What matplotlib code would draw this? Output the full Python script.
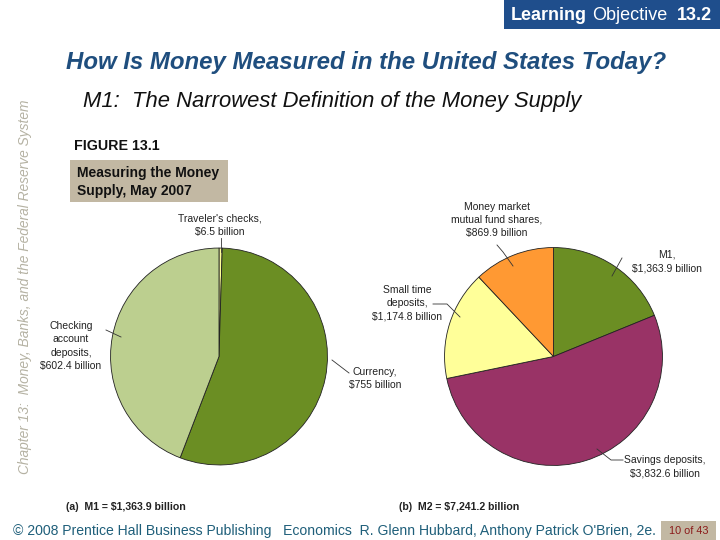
import matplotlib
matplotlib.use("Agg")
import matplotlib.pyplot as plt
from matplotlib.patches import Rectangle

plt.rcParams['font.family'] = ['Liberation Sans', 'DejaVu Sans']

W, H = 720, 540
m1_labels = ["Traveler's checks", "Currency", "Checking account deposits"]
m1_values = [6.5, 755.0, 602.4]
m1_colors = ["#ffff99", "#6b8e23", "#bccf8f"]
m2_labels = ["M1", "Savings deposits", "Small time deposits", "Money market mutual fund shares"]
m2_values = [1363.9, 3832.6, 1174.8, 869.9]
m2_colors = ["#6b8e23", "#993366", "#ffff99", "#ff9933"]

fig = plt.figure(figsize=(7.2, 5.4), dpi=100, facecolor="white")
page = fig.add_axes([0, 0, 1, 1])
page.set_xlim(0, W)
page.set_ylim(H, 0)
page.axis("off")


def pie_axes(cx, cy, r, values, colors):
    ax = fig.add_axes([(cx - r) / W, 1 - (cy + r) / H, 2 * r / W, 2 * r / H])
    ax.pie(values, colors=colors, startangle=90, counterclock=False, radius=1,
           wedgeprops=dict(edgecolor="#222222", linewidth=0.6))
    ax.set_xlim(-1.005, 1.005)
    ax.set_ylim(-1.005, 1.005)
    ax.set_aspect("equal")
    return ax


pie_axes(219, 356.5, 109, m1_values, m1_colors)
pie_axes(553.5, 356.5, 109.5, m2_values, m2_colors)

navy = "#1f4e7e"
tan = "#c2b8a3"
# Header
page.add_patch(Rectangle((504, 0), 216, 29, color="#1f4e8c", lw=0))
page.text(511, 15, "Learning", color="white", fontsize=13, fontweight="bold", va="center")
page.text(592, 15, "Objective", color="white", fontsize=13, va="center")
page.text(677, 15, "13.2", color="white", fontsize=13, fontweight="bold", va="center")

page.text(66, 62, "How Is Money Measured in the United States Today?", color=navy, fontsize=17.3,
          fontweight="bold", fontstyle="italic", va="center")
page.text(83, 102, "M1:  The Narrowest Definition of the Money Supply", color="#111111", fontsize=15.8,
          fontstyle="italic", va="center")
page.text(25, 287, "Chapter 13:  Money, Banks, and the Federal Reserve System", color="#b5b2a3",
          fontsize=9.9, fontstyle="italic", rotation=90, ha="center", va="center")

page.text(74, 146, "FIGURE 13.1", color="#111111", fontsize=10.3, fontweight="bold", va="center")
page.add_patch(Rectangle((70, 160), 158, 42, color=tan, lw=0))
page.text(77, 182, "Measuring the Money\nSupply, May 2007", color="#111111", fontsize=10,
          fontweight="bold", va="center", linespacing=1.45)

# Slice labels
small = dict(color="#222222", fontsize=7.5, ha="center", va="center", linespacing=1.42)
page.text(220, 225.5, "Traveler's checks,\n$6.5 billion", **small)
page.text(71, 346, "Checking\naccount\ndeposits,\n$602.4 billion", **small)
page.text(375, 378.5, "Currency,\n$755 billion", **small)
page.text(497, 220, "Money market\nmutual fund shares,\n$869.9 billion", **small)
page.text(667, 261.5, "M1,\n$1,363.9 billion", **small)
page.text(407, 303, "Small time\ndeposits,\n$1,174.8 billion", **small)
page.text(665, 467, "Savings deposits,\n$3,832.6 billion", **small)

# Leader lines
leader = dict(color="#333333", lw=0.6, zorder=5)
front = fig.add_axes([0, 0, 1, 1], facecolor="none")
front.set_xlim(0, W)
front.set_ylim(H, 0)
front.axis("off")
front.plot([220.5, 220.5], [238, 252], **leader)
front.plot([106, 121], [330, 337], **leader)
front.plot([332, 349], [360, 373], **leader)
front.plot([497, 503, 513], [245, 252, 266], **leader)
front.plot([622, 612], [258, 276], **leader)
front.plot([433, 447, 460], [304, 304, 317], **leader)
front.plot([597, 611, 623], [449, 460, 460], **leader)

page.text(66, 507, "(a)  M1 = $1,363.9 billion", color="#222222", fontsize=7.6, fontweight="bold", va="center")
page.text(399, 507, "(b)  M2 = $7,241.2 billion", color="#222222", fontsize=7.6, fontweight="bold", va="center")

page.text(13, 531, "© 2008 Prentice Hall Business Publishing   Economics  R. Glenn Hubbard, Anthony Patrick O'Brien, 2e.",
          color="#1f5f7a", fontsize=10.07, va="center")
page.add_patch(Rectangle((661, 521), 55, 19, color=tan, lw=0))
page.text(688.5, 531, "10 of 43", color="#8b1a1a", fontsize=7.8, ha="center", va="center")

fig.savefig("out.png", dpi=100)
